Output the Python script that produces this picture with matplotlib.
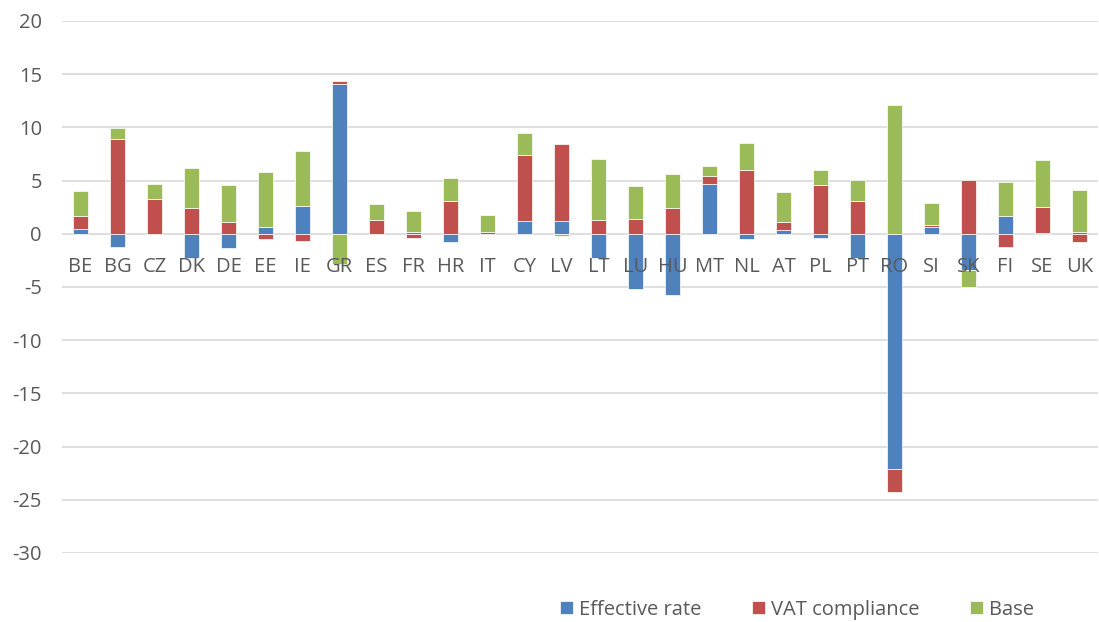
import matplotlib
matplotlib.use("Agg")
import matplotlib.pyplot as plt
import numpy as np

categories = ["BE", "BG", "CZ", "DK", "DE", "EE", "IE", "GR", "ES", "FR", "HR", "IT", "CY", "LV",
              "LT", "LU", "HU", "MT", "NL", "AT", "PL", "PT", "RO", "SI", "SK", "FI", "SE", "UK"]
effective_rate = [0.45, -1.2, 0.0, -2.3, -1.3, 0.6, 2.65, 14.1, 0.0, 0.2, -0.8, 0.0, 1.25, 1.2,
                  -2.3, -5.15, -5.75, 4.7, -0.5, 0.4, -0.35, -2.3, -22.15, 0.6, -3.4, 1.7, 0.05, 0.15]
vat_compliance = [1.2, 8.9, 3.3, 2.4, 1.1, -0.5, -0.7, 0.22, 1.3, -0.4, 3.1, 0.2, 6.2, 7.2,
                  1.3, 1.35, 2.4, 0.7, 6.0, 0.75, 4.55, 3.05, -2.15, 0.2, 5.05, -1.2, 2.45, -0.75]
base = [2.4, 1.05, 1.4, 3.75, 3.45, 5.25, 5.1, -2.8, 1.5, 1.9, 2.15, 1.6, 2.0, -0.2,
        5.75, 3.1, 3.25, 0.95, 2.5, 2.8, 1.4, 2.0, 12.15, 2.1, -1.6, 3.2, 4.4, 4.0]
series_names = ["Effective rate", "VAT compliance", "Base"]
colors = ["#4F81BD", "#C0504D", "#9BBB59"]
yticks = [20, 15, 10, 5, 0, -5, -10, -15, -20, -25, -30]

plt.rcParams['font.family'] = ['Open Sans', 'DejaVu Sans']
text_color = "#595959"
fs = 14.5

fig = plt.figure(figsize=(10.99, 6.22), dpi=100)
ax = fig.add_axes([62 / 1099, 69 / 622, 1036 / 1099, 532 / 622])

# gridlines behind bars
for t in yticks:
    ax.axhline(t, color="#D9D9D9", linewidth=1.2, zorder=0)

x = np.arange(len(categories))
pos_bottom = np.zeros(len(categories))
neg_bottom = np.zeros(len(categories))
for name, vals, col in zip(series_names, [effective_rate, vat_compliance, base], colors):
    v = np.array(vals, dtype=float)
    bottoms = np.where(v >= 0, pos_bottom, neg_bottom)
    ax.bar(x, v, width=0.42, bottom=bottoms, color=col, label=name,
           edgecolor="white", linewidth=0.5, zorder=1)
    pos_bottom += np.where(v >= 0, v, 0)
    neg_bottom += np.where(v < 0, v, 0)

ax.set_xlim(-0.5, len(categories) - 0.5)
ax.set_ylim(-30, 20)
ax.set_yticks(yticks)
ax.set_yticklabels([str(t) for t in yticks])
ax.grid(False)
for s in ax.spines.values():
    s.set_visible(False)
ax.spines['bottom'].set_position(('data', 0))
ax.set_xticks(x)
ax.set_xticklabels(categories)
ax.tick_params(axis='x', length=0, pad=16.5, labelsize=fs, labelcolor=text_color)
ax.tick_params(axis='y', length=0, pad=14.5, labelsize=fs, labelcolor=text_color)

leg = fig.legend(loc='center', bbox_to_anchor=(0.725, 0.02), ncol=3, frameon=False,
                 fontsize=fs, handlelength=0.65, handleheight=0.65, handletextpad=0.3,
                 columnspacing=2.5, labelcolor=text_color)

fig.savefig("out.png", dpi=100)
